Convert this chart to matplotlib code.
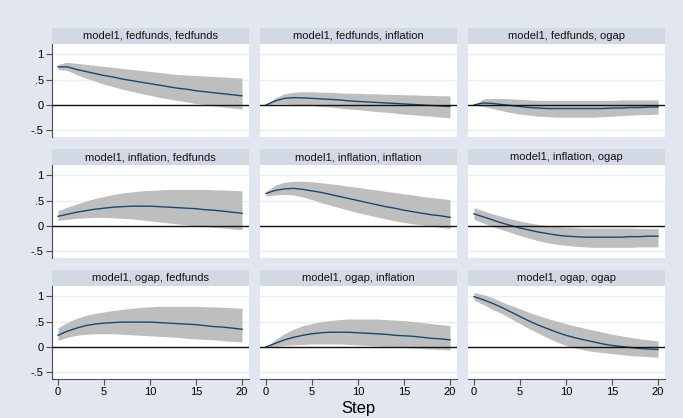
import numpy as np
import matplotlib
matplotlib.use("Agg")
import matplotlib.pyplot as plt
from matplotlib.patches import Rectangle

plt.rcParams['font.family'] = ['Liberation Sans', 'DejaVu Sans']

# steps of the impulse response
steps = list(range(21))

# panel titles, row by row
titles = ["model1, fedfunds, fedfunds", "model1, fedfunds, inflation", "model1, fedfunds, ogap",
          "model1, inflation, fedfunds", "model1, inflation, inflation", "model1, inflation, ogap",
          "model1, ogap, fedfunds", "model1, ogap, inflation", "model1, ogap, ogap"]

# irf, lower and upper 95% bands
irf_ff_ff = [.75, .75, .70, .66, .62, .58, .55, .51, .48, .45, .42, .39, .36, .33, .31, .28, .26, .24, .22, .20, .18]
up_ff_ff = [.80, .84, .82, .80, .78, .76, .74, .72, .70, .68, .66, .64, .62, .60, .59, .58, .57, .56, .55, .54, .53]
lo_ff_ff = [.70, .68, .60, .53, .47, .41, .36, .31, .27, .23, .19, .15, .12, .09, .06, .03, .01, -.02, -.04, -.06, -.08]

irf_ff_inf = [0, .08, .13, .145, .14, .13, .12, .11, .10, .08, .07, .06, .05, .04, .03, .02, .01, 0, -.01, -.02, -.03]
up_ff_inf = [0, .14, .22, .25, .26, .26, .25, .25, .24, .23, .23, .22, .22, .21, .21, .20, .20, .19, .19, .18, .18]
lo_ff_inf = [0, .02, .02, .01, 0, -.01, -.03, -.04, -.06, -.08, -.09, -.11, -.13, -.14, -.16, -.18, -.19, -.21, -.22, -.24, -.25]

irf_ff_og = [0, .04, .03, .01, -.01, -.03, -.05, -.06, -.07, -.07, -.07, -.07, -.07, -.07, -.07, -.06, -.06, -.05, -.05, -.04, -.04]
up_ff_og = [0, .12, .13, .13, .12, .11, .10, .09, .09, .09, .09, .09, .09, .09, .09, .09, .10, .10, .10, .10, .10]
lo_ff_og = [0, -.03, -.07, -.11, -.15, -.18, -.20, -.22, -.23, -.24, -.24, -.24, -.24, -.24, -.23, -.22, -.21, -.20, -.19, -.19, -.18]

irf_inf_ff = [.19, .23, .27, .30, .33, .35, .37, .38, .39, .39, .39, .38, .37, .36, .35, .34, .32, .31, .29, .27, .25]
up_inf_ff = [.30, .37, .43, .49, .54, .58, .62, .65, .67, .69, .70, .71, .72, .72, .72, .72, .72, .71, .71, .70, .69]
lo_inf_ff = [.11, .13, .15, .16, .17, .17, .16, .15, .14, .12, .10, .08, .06, .04, .02, 0, -.01, -.03, -.04, -.06, -.07]

irf_inf_inf = [.64, .70, .73, .74, .72, .69, .66, .62, .58, .54, .50, .46, .42, .38, .35, .31, .28, .25, .22, .20, .17]
up_inf_inf = [.68, .80, .86, .88, .88, .87, .85, .83, .81, .78, .76, .73, .71, .68, .66, .63, .61, .58, .56, .54, .52]
lo_inf_inf = [.59, .61, .62, .61, .57, .52, .46, .41, .36, .31, .26, .22, .18, .14, .10, .07, .04, .02, 0, -.03, -.05]

irf_inf_og = [.24, .18, .12, .06, .01, -.04, -.08, -.12, -.15, -.18, -.20, -.21, -.22, -.22, -.22, -.22, -.22, -.21, -.21, -.20, -.20]
up_inf_og = [.36, .30, .24, .19, .14, .10, .06, .03, .01, -.01, -.02, -.03, -.04, -.04, -.04, -.04, -.04, -.04, -.05, -.05, -.05]
lo_inf_og = [.13, .06, -.01, -.07, -.13, -.19, -.24, -.29, -.33, -.36, -.38, -.40, -.41, -.42, -.42, -.42, -.42, -.42, -.41, -.41, -.41]

irf_og_ff = [.23, .31, .37, .42, .45, .47, .48, .49, .49, .49, .49, .48, .47, .46, .45, .44, .42, .40, .39, .37, .35]
up_og_ff = [.38, .48, .56, .62, .66, .69, .72, .74, .76, .78, .79, .80, .80, .80, .80, .80, .79, .79, .78, .77, .76]
lo_og_ff = [.13, .19, .23, .25, .26, .26, .26, .25, .24, .23, .22, .21, .20, .19, .17, .16, .15, .14, .12, .11, .10]

irf_og_inf = [0, .07, .14, .19, .23, .26, .28, .29, .29, .29, .28, .27, .26, .25, .23, .22, .21, .19, .17, .16, .14]
up_og_inf = [0, .14, .26, .35, .42, .46, .50, .52, .54, .55, .55, .55, .55, .54, .53, .52, .50, .48, .46, .44, .42]
lo_og_inf = [0, .01, .03, .04, .05, .06, .06, .06, .06, .05, .04, .03, .02, .01, 0, -.01, -.02, -.03, -.04, -.05, -.06]

irf_og_og = [.99, .93, .86, .78, .69, .60, .51, .43, .36, .29, .23, .18, .14, .10, .06, .03, .01, -.01, -.03, -.04, -.05]
up_og_og = [1.07, 1.03, .97, .89, .82, .75, .68, .62, .56, .51, .46, .41, .37, .33, .29, .25, .22, .19, .16, .14, .12]
lo_og_og = [.92, .84, .74, .66, .56, .46, .36, .27, .18, .10, .03, -.02, -.06, -.09, -.11, -.13, -.15, -.17, -.18, -.19, -.20]

irfs = [irf_ff_ff, irf_ff_inf, irf_ff_og, irf_inf_ff, irf_inf_inf, irf_inf_og, irf_og_ff, irf_og_inf, irf_og_og]
uppers = [up_ff_ff, up_ff_inf, up_ff_og, up_inf_ff, up_inf_inf, up_inf_og, up_og_ff, up_og_inf, up_og_og]
lowers = [lo_ff_ff, lo_ff_inf, lo_ff_og, lo_inf_ff, lo_inf_inf, lo_inf_og, lo_og_ff, lo_og_inf, lo_og_og]

yticks = [-.5, 0, .5, 1]
ytick_labels = ["-.5", "0", ".5", "1"]
xticks = [0, 5, 10, 15, 20]

bg = "#E1E6F0"
head = "#D3D9E4"
grid = "#E8EEF4"
band = "#BEBEBE"
navy = "#1A476F"

W, H = 683, 418
fig = plt.figure(figsize=(W / 100, H / 100), dpi=100, facecolor=bg)

col_x = [52, 260, 468]
row_y = [44, 165, 286]   # top of plot area (px)
pw, ph = 197, 93
hh = 16

for k in range(9):
    r, c = divmod(k, 3)
    left = col_x[c] / W
    bottom = 1 - (row_y[r] + ph) / H
    ax = fig.add_axes([left, bottom, pw / W, ph / H])
    ax.set_facecolor("white")

    # header strip with the panel title
    ax.add_patch(Rectangle((0, 1), 1, hh / ph, transform=ax.transAxes,
                           facecolor=head, edgecolor="none", clip_on=False))
    ax.text(0.5, 1 + hh / ph / 2, titles[k], transform=ax.transAxes,
            ha="center", va="center", fontsize=8, color="#111111")

    for yv in yticks:
        ax.axhline(yv, color=grid, lw=1.0, zorder=1)
    ax.fill_between(steps, lowers[k], uppers[k], color=band, lw=0, zorder=2)
    ax.plot(steps, irfs[k], color=navy, lw=1.0, zorder=3)
    ax.axhline(0, color="#111111", lw=1.0, zorder=4)

    ax.set_xlim(-0.65, 20.76)
    ax.set_ylim(-0.63, 1.2)

    for s in ax.spines.values():
        s.set_visible(False)

    if c == 0:
        ax.spines["left"].set_visible(True)
        ax.spines["left"].set_color("#4d4d4d")
        ax.set_yticks(yticks)
        ax.set_yticklabels(ytick_labels)
        ax.tick_params(axis="y", length=4, width=0.8, color="#4d4d4d", labelsize=8, pad=2)
    else:
        ax.set_yticks([])

    if r == 2:
        ax.spines["bottom"].set_visible(True)
        ax.spines["bottom"].set_color("#4d4d4d")
        ax.set_xticks(xticks)
        ax.tick_params(axis="x", length=4, width=0.8, color="#4d4d4d", labelsize=8, pad=2)
    else:
        ax.set_xticks([])

fig.text(358 / W, 1 - 409 / H, "Step", ha="center", va="center", fontsize=12)

fig.savefig("out.png", dpi=100, facecolor=bg)
